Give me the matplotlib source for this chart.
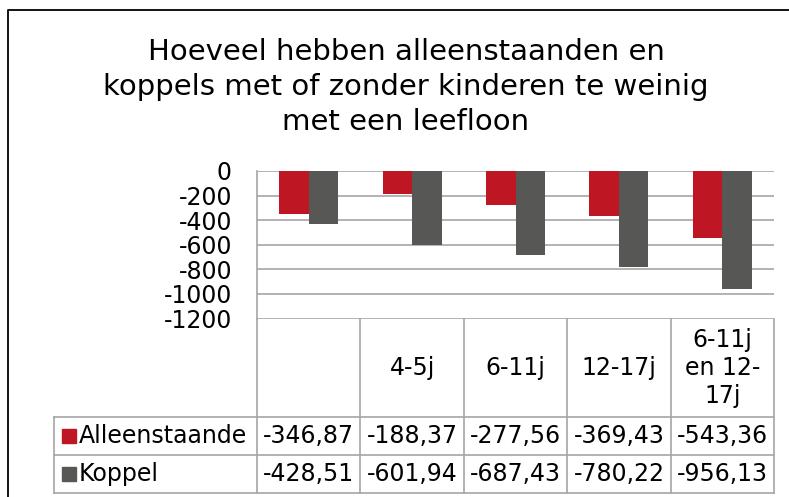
import numpy as np
import matplotlib
matplotlib.use("Agg")
import matplotlib.pyplot as plt
import matplotlib.transforms as transforms
from matplotlib.patches import Rectangle
from matplotlib.lines import Line2D

plt.rcParams["font.family"] = "DejaVu Sans"
plt.rcParams["axes.unicode_minus"] = False

title = "Hoeveel hebben alleenstaanden en\nkoppels met of zonder kinderen te weinig\nmet een leefloon"
categories = ["", "4-5j", "6-11j", "12-17j", "6-11j\nen 12-\n17j"]
series_names = ["Alleenstaande", "Koppel"]
alleenstaande = [-346.87, -188.37, -277.56, -369.43, -543.36]
koppel = [-428.51, -601.94, -687.43, -780.22, -956.13]
yticks = list(range(-1200, 1, 200))

RED = "#be1622"
GRAY = "#575756"
GRID = "#a6a6a6"

W, H = 789, 497


def fx(px):
    return px / W


def fy(py):
    return 1 - py / H


fig = plt.figure(figsize=(W / 100, H / 100), dpi=100)
ax = fig.add_axes([fx(257), fy(318.5), fx(774) - fx(257), fy(171) - fy(318.5)])

x = np.arange(len(categories))
w = 0.285
ax.bar(x - w / 2, alleenstaande, w, color=RED, zorder=2)
ax.bar(x + w / 2, koppel, w, color=GRAY, zorder=2)

ax.set_xlim(-0.5, len(categories) - 0.5)
ax.set_ylim(-1200, 0)
ax.set_yticks(yticks)
ax.set_xticks([])
ax.yaxis.grid(True, color=GRID, lw=1.2)
ax.set_axisbelow(True)
for s in ["top", "right", "bottom"]:
    ax.spines[s].set_visible(False)
ax.spines["left"].set_color(GRID)
ax.spines["left"].set_linewidth(1.2)
ax.tick_params(axis="y", length=0, pad=18, labelsize=17)

# data table under the plot
blend = transforms.blended_transform_factory(ax.transData, fig.transFigure)
row_lines = [417, 455, 493]
for yy in row_lines:
    fig.add_artist(Line2D([fx(54), fx(774)], [fy(yy), fy(yy)], color=GRID, lw=1.2))
fig.add_artist(Line2D([fx(54), fx(54)], [fy(417), fy(493)], color=GRID, lw=1.2))
for b in np.arange(len(categories) + 1) - 0.5:
    fig.add_artist(Line2D([b, b], [fy(318.5), fy(493)], color=GRID, lw=1.2, transform=blend))

for i, c in enumerate(categories):
    fig.text(i, fy(368), c, transform=blend, ha="center", va="center",
             fontsize=17, linespacing=1.2)

rows = [alleenstaande, koppel]
colors = [RED, GRAY]
for r, (name, vals, col) in enumerate(zip(series_names, rows, colors)):
    yc = (row_lines[r] + row_lines[r + 1]) / 2
    fig.add_artist(Rectangle((fx(62), fy(yc + 7)), fx(14), 14 / H, color=col))
    fig.text(fx(79), fy(yc), name, ha="left", va="center", fontsize=17)
    for i, v in enumerate(vals):
        fig.text(i, fy(yc), f"{v:.2f}".replace(".", ","), transform=blend,
                 ha="center", va="center", fontsize=17)

fig.text(fx(406), fy(87), title, ha="center", va="center", fontsize=21, linespacing=1.33)

# chart border
fig.add_artist(Line2D([fx(8), fx(8), fx(789)], [fy(497), fy(10), fy(10)], color="black", lw=1.3))

fig.savefig("out.png", dpi=100)
